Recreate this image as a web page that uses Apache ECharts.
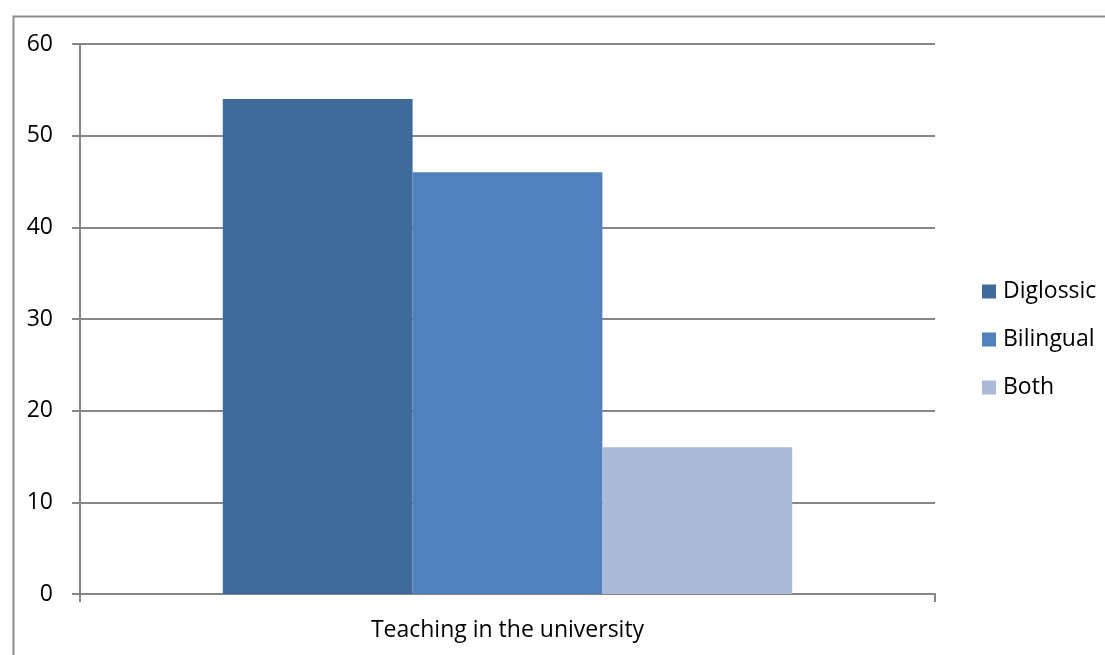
<!DOCTYPE html>
<html>
<head>
<meta charset="utf-8">
<script src="https://cdn.jsdelivr.net/npm/echarts@6/dist/echarts.min.js"></script>
<style>
  html, body { margin: 0; padding: 0; background: #fff; }
  #chart { width: 1105px; height: 655px; }
</style>
</head>
<body>
<div id="chart"></div>
<script>
// Survey answers for one category, split by three responses
const categories = ['Teaching in the university'];
const seriesNames = ['Diglossic', 'Bilingual', 'Both'];
const diglossic = [54];
const bilingual = [46];
const both = [16];
const yTicks = [0, 10, 20, 30, 40, 50, 60];

const colors = ['#3F6A9C', '#4F81BD', '#AABAD7'];
const font = 'Open Sans, Noto Sans, sans-serif';

const chart = echarts.init(document.getElementById('chart'), null, { renderer: 'canvas' });

const seriesData = [diglossic, bilingual, both];

chart.setOption({
  animation: false,
  color: colors,
  textStyle: { fontFamily: font },
  graphic: [{
    type: 'rect',
    left: 11, top: 14,
    shape: { width: 1200, height: 800 },
    style: { fill: 'none', stroke: '#8C8C8C', lineWidth: 2 },
    silent: true
  }],
  grid: { left: 80, top: 44, right: 170, bottom: 61, containLabel: false },
  legend: {
    orient: 'vertical',
    left: 977,
    top: 275,
    itemWidth: 14,
    itemHeight: 14,
    itemGap: 25,
    icon: 'rect',
    textStyle: { fontSize: 23, color: '#000', fontFamily: font, padding: [0, 0, 0, 2] },
    data: seriesNames
  },
  xAxis: {
    type: 'category',
    data: categories,
    axisLine: { lineStyle: { color: '#868686', width: 2 } },
    axisTick: { show: true, alignWithLabel: false, length: 8, lineStyle: { color: '#868686', width: 2 } },
    axisLabel: { fontSize: 23, color: '#000', margin: 25, fontFamily: font },
    splitLine: { show: false }
  },
  yAxis: {
    type: 'value',
    min: yTicks[0],
    max: yTicks[yTicks.length - 1],
    interval: 10,
    axisLine: { show: true, lineStyle: { color: '#868686', width: 2 } },
    axisTick: { show: true, length: 8, lineStyle: { color: '#868686', width: 2 } },
    axisLabel: { fontSize: 23, color: '#000', margin: 27, fontFamily: font },
    splitLine: { show: true, lineStyle: { color: '#868686', width: 2 } }
  },
  series: seriesNames.map((name, i) => ({
    name: name,
    type: 'bar',
    data: seriesData[i],
    barGap: '0%',
    barCategoryGap: '33.4%',
    itemStyle: { color: colors[i] }
  }))
});
</script>
</body>
</html>
